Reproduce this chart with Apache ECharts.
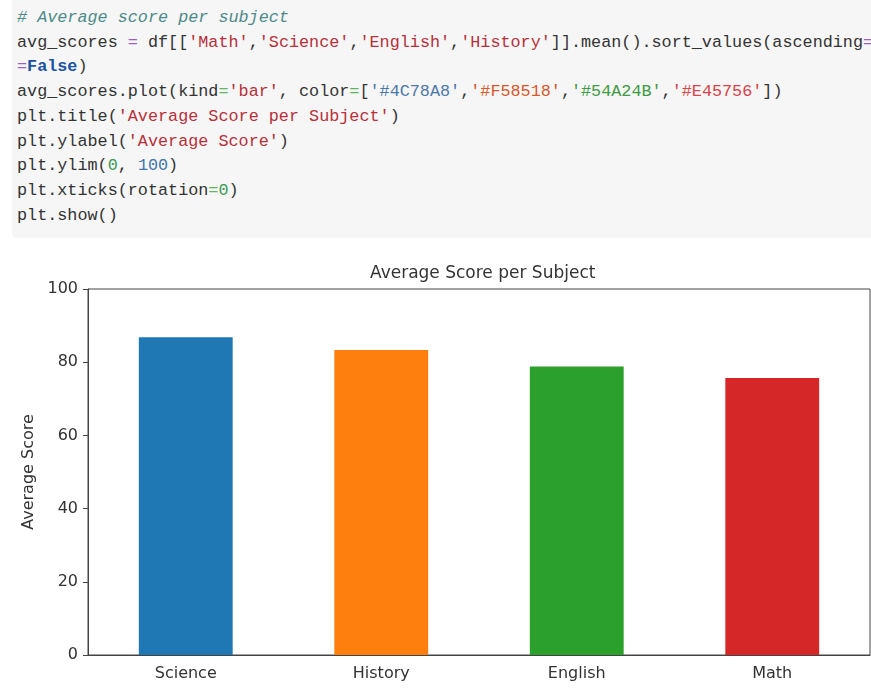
<!DOCTYPE html>
<html>
<head>
<meta charset="utf-8">
<script src="https://cdn.jsdelivr.net/npm/echarts@6/dist/echarts.min.js"></script>
<style>
  html, body { margin: 0; padding: 0; background: #fff; width: 871px; height: 694px; overflow: hidden; }
  .cell {
    position: absolute; left: 12px; top: 0; width: 870px; height: 238px;
    background: #f6f6f6; border-radius: 0 0 0 5px; overflow: hidden;
  }
  .cell pre {
    position: absolute; left: 5px; top: 6px; margin: 0;
    font-family: "Liberation Mono", "DejaVu Sans Mono", monospace;
    font-size: 16.8px; line-height: 24.7px; color: #333; white-space: pre;
  }
  .cm { color: #4d8a8a; font-style: italic; }
  .st { color: #b7303a; }
  .op { color: #9b5fc9; }
  .og { color: #5cb85c; }
  .kw { color: #1c52a3; font-weight: bold; }
  .nm { color: #3a9a55; }
  .nb { color: #3c74ad; }
  .EC { position: absolute; left: 0; top: 240px; width: 871px; height: 454px; }
</style>
</head>
<body>
<div class="cell"><pre><span class="cm"># Average score per subject</span>
avg_scores <span class="op">=</span> df[[<span class="st">'Math'</span>,<span class="st">'Science'</span>,<span class="st">'English'</span>,<span class="st">'History'</span>]].mean().sort_values(ascending<span class="op">=</span>
<span class="op">=</span><span class="kw">False</span>)
avg_scores.plot(kind<span class="og">=</span><span class="st">'bar'</span>, color<span class="og">=</span>[<span style="color:#4C78A8">'#4C78A8'</span>,<span style="color:#d9572a">'#F58518'</span>,<span style="color:#3f9a45">'#54A24B'</span>,<span style="color:#d9434a">'#E45756'</span>])
plt.title(<span class="st">'Average Score per Subject'</span>)
plt.ylabel(<span class="st">'Average Score'</span>)
plt.ylim(<span class="nm">0</span>, <span class="nb">100</span>)
plt.xticks(rotation<span class="og">=</span><span class="nm">0</span>)
plt.show()</pre></div>
<div class="EC"></div>
<script>
// values
const subjects = ['Science', 'History', 'English', 'Math']
const avgScores = [86.8, 83.3, 78.8, 75.7]
const barColors = ['#1f77b4', '#ff7f0e', '#2ca02c', '#d62728']

window.onload = () => {
    let EC = echarts.init(document.querySelector('.EC'))
    const font = 'DejaVu Sans'
    let option = {
        animation: false,
        title: {
            text: 'Average Score per Subject',
            left: 365,
            top: 20,
            textStyle: { color: '#333', fontSize: 17, fontWeight: 'normal', fontFamily: font }
        },
        grid: {
            left: 88, right: 1, top: 49, bottom: 39,
            show: true, borderColor: '#444', borderWidth: 1, backgroundColor: 'transparent'
        },
        xAxis: {
            type: 'category',
            data: subjects,
            axisLine: { lineStyle: { color: '#444', width: 1 } },
            axisTick: { alignWithLabel: true, length: 5, lineStyle: { color: '#444' } },
            axisLabel: { color: '#333', fontSize: 16, fontFamily: font, margin: 11 }
        },
        yAxis: {
            type: 'value',
            min: 0, max: 100, interval: 20,
            name: 'Average Score',
            nameLocation: 'middle',
            nameRotate: 90,
            nameGap: 48,
            nameTextStyle: { color: '#333', fontSize: 16, fontFamily: font },
            axisLine: { show: true, lineStyle: { color: '#444', width: 1 } },
            axisTick: { show: true, length: 5, lineStyle: { color: '#444' } },
            axisLabel: { color: '#333', fontSize: 16, fontFamily: font, margin: 10 },
            splitLine: { show: false }
        },
        series: [{
            type: 'bar',
            barWidth: '48%',
            data: avgScores.map((v, i) => ({ value: v, itemStyle: { color: barColors[i] } }))
        }]
    }
    EC.setOption(option)
}
</script>
</body>
</html>
